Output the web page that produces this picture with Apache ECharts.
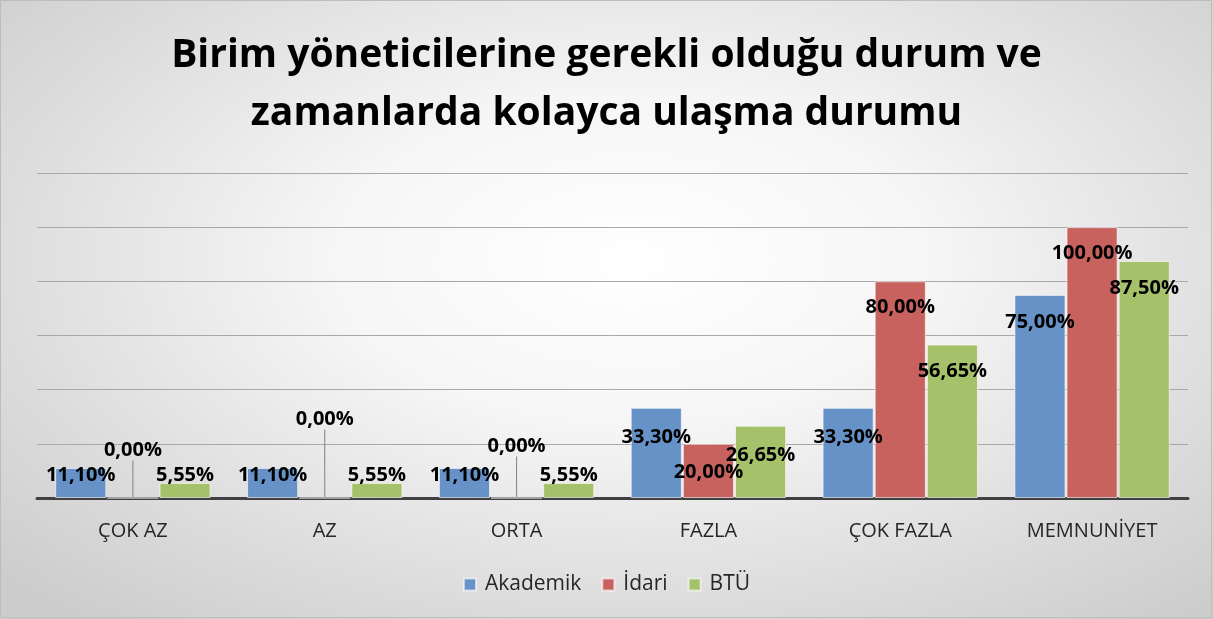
<!doctype html>
<html lang="tr">
<head>
<meta charset="UTF-8">
<title>Birim yöneticilerine ulaşma durumu</title>
<style>
    *{margin: 0; padding: 0}
    #block{
        width: 1213px; height: 619px;
        background: radial-gradient(ellipse 70% 75% at 52% 42%, #ffffff 0%, #f6f6f6 35%, #dcdcdc 75%, #cdcdcd 100%);
    }
</style>
</head>
<body>
<div id="block"></div>
<script src="https://cdn.jsdelivr.net/npm/echarts@6/dist/echarts.min.js"></script>
<script>
    // data
    const titleText = 'Birim yöneticilerine gerekli olduğu durum ve\nzamanlarda kolayca ulaşma durumu';
    const categories = ['ÇOK AZ', 'AZ', 'ORTA', 'FAZLA', 'ÇOK FAZLA', 'MEMNUNİYET'];
    const seriesNames = ['Akademik', 'İdari', 'BTÜ'];
    const akademik = [11.10, 11.10, 11.10, 33.30, 33.30, 75.00];
    const idari = [0.00, 0.00, 0.00, 20.00, 80.00, 100.00];
    const btu = [5.55, 5.55, 5.55, 26.65, 56.65, 87.50];
</script>
<script>
    // label placement (px from the top of each bar), like the moved labels in the original
    const labelDy = [
        [7, 7, 7, 29, 29, 27],
        [-47, -78, -51, 28, 26, 26],
        [-8, -8, -8, 29, 27, 27]
    ];
    const colors = ['#6792c7', '#c8625f', '#a5c26b'];
    const font = '"Open Sans", Lato, sans-serif';

    const fmt = v => v.toFixed(2).replace('.', ',') + '%';

    const makeSeries = function(name, values, idx) {
        return {
            name: name,
            type: 'bar',
            barGap: '2%',
            barCategoryGap: '19%',
            data: values.map(v => v === 0
                ? {value: v, labelLine: {show: true, lineStyle: {color: '#808080', width: 1}}}
                : v),
            itemStyle: {color: colors[idx], borderColor: 'rgba(255,255,255,0.6)', borderWidth: 1},
            label: {
                show: true,
                position: ['50%', 0],
                align: 'center',
                verticalAlign: 'middle',
                formatter: p => fmt(p.value),
                fontFamily: font,
                fontWeight: 'bold',
                fontSize: 20,
                color: '#000'
            },
            labelLine: {show: false},
            labelLayout: function(p) {
                return {dy: labelDy[idx][p.dataIndex]};
            }
        };
    };

    const block = document.getElementById('block');
    const chart = echarts.init(block);
    let option = {
        animation: false,
        color: colors,
        textStyle: {fontFamily: font},
        title: {
            text: titleText,
            left: 'center',
            top: 22,
            textStyle: {fontFamily: font, fontWeight: 'bold', fontSize: 39, lineHeight: 58, color: '#000'}
        },
        legend: {
            bottom: 19,
            left: 'center',
            icon: 'rect',
            itemWidth: 12,
            itemHeight: 12,
            itemGap: 20,
            textStyle: {fontFamily: font, fontSize: 21, color: '#262626', padding: [0, 0, 0, 4]},
            data: seriesNames
        },
        grid: {left: 37, right: 25, top: 173, bottom: 121},
        xAxis: {
            type: 'category',
            data: categories,
            axisTick: {show: false},
            axisLine: {lineStyle: {color: '#404040', width: 3}},
            axisLabel: {fontFamily: font, fontSize: 20, color: '#262626', margin: 23}
        },
        yAxis: {
            type: 'value',
            min: 0,
            max: 120,
            interval: 20,
            axisLabel: {show: false},
            axisLine: {show: false},
            axisTick: {show: false},
            splitLine: {lineStyle: {color: '#a8a8a8', width: 1}}
        },
        series: [
            makeSeries(seriesNames[0], akademik, 0),
            makeSeries(seriesNames[1], idari, 1),
            makeSeries(seriesNames[2], btu, 2)
        ],
        graphic: [{
            type: 'rect',
            shape: {x: 0.5, y: 0.5, width: 1211, height: 617},
            style: {fill: 'none', stroke: '#bdbdbd', lineWidth: 1},
            silent: true
        }]
    };
    chart.setOption(option);
</script>
</body>
</html>
